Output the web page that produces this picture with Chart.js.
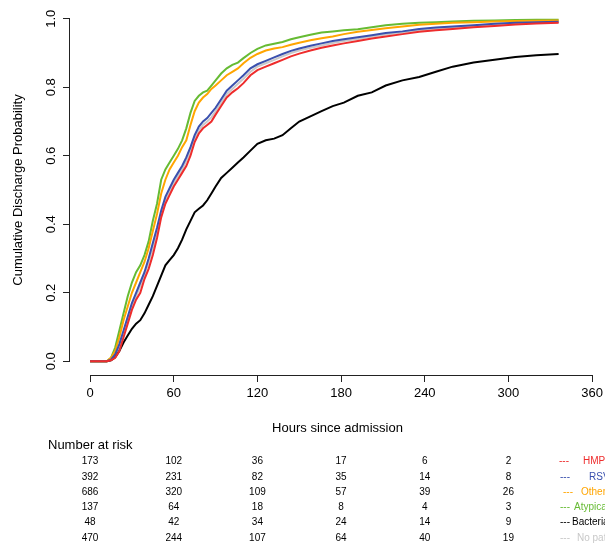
<!DOCTYPE html>
<html><head><meta charset="utf-8">
<script src="https://cdn.jsdelivr.net/npm/chart.js@4"></script>
<style>html,body{margin:0;padding:0;background:#fff}#wrap{width:605px;height:544px}</style>
</head><body><div id="wrap"><canvas id="c" width="605" height="544"></canvas></div>
<script>
// Hours since admission at which curve values were read
const hours = [0,12,15,18,21,24,27,30,33,36,39,42,45,48,51,54,57,60,63,66,69,72,75,78,81,84,87,90,94,98,102,106,110,115,120,126,132,138,144,150,158,166,174,182,192,202,212,224,236,248,260,275,290,305,320,336];
// Cumulative discharge probability per group
const hmpv = [0,0,0.003,0.01,0.03,0.07,0.11,0.15,0.18,0.20,0.24,0.27,0.31,0.36,0.42,0.46,0.485,0.51,0.53,0.55,0.57,0.60,0.64,0.665,0.68,0.69,0.70,0.72,0.745,0.77,0.785,0.797,0.812,0.835,0.85,0.86,0.87,0.88,0.89,0.898,0.907,0.915,0.922,0.928,0.935,0.942,0.948,0.955,0.962,0.966,0.970,0.975,0.979,0.983,0.986,0.988];
const rsv = [0,0,0.005,0.02,0.05,0.09,0.13,0.17,0.20,0.23,0.26,0.30,0.345,0.39,0.44,0.48,0.505,0.53,0.55,0.57,0.595,0.625,0.66,0.685,0.70,0.71,0.725,0.74,0.765,0.79,0.805,0.82,0.835,0.855,0.867,0.877,0.887,0.897,0.906,0.913,0.921,0.928,0.935,0.94,0.946,0.952,0.958,0.963,0.97,0.974,0.977,0.981,0.985,0.988,0.99,0.991];
const other = [0,0,0.01,0.03,0.07,0.12,0.16,0.20,0.23,0.26,0.29,0.33,0.38,0.43,0.49,0.53,0.56,0.58,0.60,0.625,0.645,0.69,0.73,0.755,0.77,0.78,0.795,0.805,0.82,0.835,0.845,0.855,0.87,0.886,0.897,0.907,0.913,0.917,0.924,0.93,0.937,0.943,0.948,0.955,0.962,0.967,0.972,0.977,0.982,0.985,0.988,0.99,0.992,0.993,0.994,0.995];
const atypical = [0,0,0.01,0.04,0.09,0.14,0.19,0.23,0.26,0.28,0.31,0.35,0.41,0.46,0.53,0.56,0.58,0.60,0.62,0.645,0.68,0.725,0.76,0.775,0.785,0.79,0.805,0.82,0.84,0.855,0.865,0.872,0.885,0.90,0.912,0.922,0.927,0.932,0.94,0.946,0.953,0.96,0.963,0.966,0.969,0.975,0.981,0.985,0.988,0.99,0.992,0.994,0.995,0.996,0.997,0.997];
const bacterial = [0,0,0.003,0.012,0.03,0.055,0.075,0.095,0.11,0.12,0.14,0.165,0.19,0.22,0.25,0.28,0.295,0.31,0.33,0.355,0.385,0.41,0.435,0.445,0.455,0.47,0.49,0.51,0.535,0.55,0.565,0.58,0.595,0.615,0.635,0.645,0.65,0.66,0.68,0.70,0.715,0.73,0.745,0.755,0.775,0.785,0.805,0.82,0.83,0.845,0.86,0.872,0.88,0.888,0.893,0.897];
const noPathogen = [0,0,0.004,0.015,0.04,0.08,0.12,0.16,0.19,0.22,0.25,0.29,0.33,0.38,0.43,0.47,0.495,0.52,0.54,0.56,0.585,0.615,0.65,0.675,0.69,0.70,0.712,0.73,0.755,0.78,0.795,0.81,0.825,0.845,0.86,0.87,0.88,0.89,0.90,0.907,0.915,0.922,0.929,0.935,0.941,0.948,0.954,0.96,0.966,0.97,0.974,0.978,0.982,0.985,0.988,0.99];

// Number at risk table
const riskTimes = [0,60,120,180,240,300];
const riskHMPV = [173,102,36,17,6,2];
const riskRSV = [392,231,82,35,14,8];
const riskOther = [686,320,109,57,39,26];
const riskAtypical = [137,64,18,8,4,3];
const riskBacterial = [48,42,34,24,14,9];
const riskNoPathogen = [470,244,107,64,40,19];
const groupNames = ['HMPV','RSV','Other','Atypical','Bacterial','No pathogen'];

const xTicks = [0,60,120,180,240,300,360];
const yTicks = [0,0.2,0.4,0.6,0.8,1.0];

const colors = ['#EE2C2C','#3A50AE','#FFA500','#66BB33','#000000','#C8C8C8'];
const seriesList = [hmpv, rsv, other, atypical, bacterial, noPathogen];
const riskList = [riskHMPV, riskRSV, riskOther, riskAtypical, riskBacterial, riskNoPathogen];

const FONT = '"Liberation Sans", Arial, sans-serif';

const datasets = seriesList.map((s, i) => ({
  label: groupNames[i],
  data: hours.map((h, j) => ({x: h, y: s[j]})),
  borderColor: colors[i],
  backgroundColor: colors[i],
  borderWidth: 2,
  pointRadius: 0,
  stepped: false,
  tension: 0,
  fill: false
}));

const rAxes = {
  id: 'rAxes',
  afterDraw(chart) {
    const ctx = chart.ctx;
    const xs = chart.scales.x, ys = chart.scales.y;
    ctx.save();
    ctx.strokeStyle = '#222';
    ctx.lineWidth = 1;
    const yb = Math.round(chart.chartArea.bottom) + 0.5;
    ctx.beginPath();
    ctx.moveTo(xs.getPixelForValue(xTicks[0]), yb);
    ctx.lineTo(xs.getPixelForValue(xTicks[xTicks.length-1]), yb);
    ctx.stroke();
    const xl = Math.round(chart.chartArea.left) - 0.5;
    ctx.beginPath();
    ctx.moveTo(xl, ys.getPixelForValue(yTicks[0]));
    ctx.lineTo(xl, ys.getPixelForValue(yTicks[yTicks.length-1]));
    ctx.stroke();

    // Number at risk table
    ctx.fillStyle = '#000';
    ctx.textBaseline = 'middle';
    ctx.textAlign = 'left';
    ctx.font = '13px ' + FONT;
    ctx.fillText('Number at risk', 48, 445);
    ctx.font = '10px ' + FONT;
    const rowY0 = 461.5, rowStep = 15.3;
    const dashX = [559, 560, 563, 560, 560, 560];
    const nameX = [583, 589, 581, 574, 572, 577];
    riskList.forEach((row, r) => {
      const y = rowY0 + r * rowStep;
      ctx.textAlign = 'center';
      ctx.fillStyle = '#000';
      row.forEach((v, i) => {
        ctx.fillText(String(v), xs.getPixelForValue(riskTimes[i]), y);
      });
      ctx.textAlign = 'left';
      ctx.fillStyle = colors[r];
      ctx.fillText('---', dashX[r], y);
      ctx.fillText(groupNames[r], nameX[r], y);
    });
    ctx.restore();
  }
};

new Chart(document.getElementById('c'), {
  type: 'line',
  data: { datasets },
  options: {
    responsive: false,
    animation: false,
    devicePixelRatio: 1,
    layout: { padding: { top: 5, right: 0, bottom: 106, left: 0 } },
    plugins: { legend: { display: false }, tooltip: { enabled: false } },
    scales: {
      x: {
        type: 'linear',
        min: -14.4,
        max: 369.27,
        afterBuildTicks(s) { s.ticks = xTicks.map(v => ({value: v})); },
        afterFit(s) { s.height = 63; s.paddingLeft = 0; s.paddingRight = 0; },
        border: { display: false },
        grid: { display: true, drawOnChartArea: false, drawTicks: true, tickLength: 7, color: '#222' },
        ticks: { color: '#000', font: { size: 13, family: FONT }, padding: 4, maxRotation: 0, autoSkip: false },
        title: { display: true, text: 'Hours since admission', color: '#000', font: { size: 13, family: FONT }, padding: { top: 0, bottom: 2 } }
      },
      y: {
        type: 'linear',
        min: -0.04,
        max: 1.04,
        afterBuildTicks(s) { s.ticks = yTicks.map(v => ({value: v})); },
        afterFit(s) { s.width = 70; s.paddingTop = 0; s.paddingBottom = 0; },
        border: { display: false },
        grid: { display: true, drawOnChartArea: false, drawTicks: true, tickLength: 7, color: '#222' },
        ticks: { color: '#000', font: { size: 13, family: FONT }, padding: 3, minRotation: 90, maxRotation: 90, crossAlign: 'center', autoSkip: false,
                 callback: v => v.toFixed(1) },
        title: { display: true, text: 'Cumulative Discharge Probability', color: '#000', font: { size: 13, family: FONT }, padding: { top: 11, bottom: 0 } }
      }
    }
  },
  plugins: [rAxes]
});
</script>
</body></html>
